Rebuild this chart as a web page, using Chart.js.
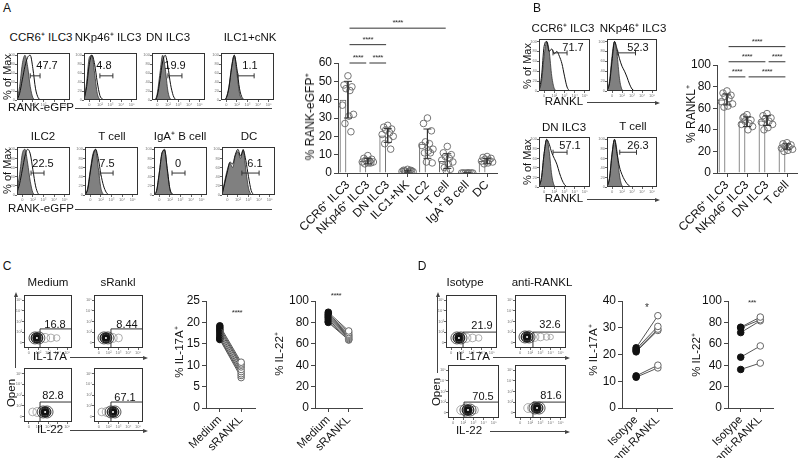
<!DOCTYPE html>
<html><head><meta charset="utf-8">
<script src="https://cdn.jsdelivr.net/npm/chart.js@4/dist/chart.umd.min.js"></script>
<style>
body{margin:0;background:#fff;}
#root{position:relative;width:800px;height:458px;overflow:hidden;background:#fff;font-family:"Liberation Sans",Arial,sans-serif;color:#111;}
.t{position:absolute;white-space:nowrap;line-height:1;}
.ln{position:absolute;background:#444;}
canvas{position:absolute;}
</style></head>
<body><div id="root"></div>
<script>
// ---------------- DATA ----------------
// Panel A bar chart
const catsA = ['CCR6⁺ ILC3','NKp46⁺ ILC3','DN ILC3','ILC1+NK','ILC2','T cell','IgA⁺ B cell','DC'];
const meanA = [40, 6.5, 20.5, 1, 16, 6.5, 0, 6.5];
const sdA = [10, 1.5, 3.8, 0.5, 8, 4, 0, 1.5];
const ptsA = [
  [53,48,47,46,45,37,32,31,27,22.5],
  [9.5,8,7.5,7,6.5,6,6,5.5,5,5.5],
  [26,25,24,23.5,22,21,20,18,16,13],
  [2,1.5,1.2,1,1,0.8,0.7,0.5,1.2,1.5],
  [30,27,23,17,16,15,13,12,11,11,6,5.5],
  [14.5,11,10,9,8,7,6,5,3,2,1],
  [0,0,0,0,0,0,0,0],
  [9,8.5,8,7.5,7,6.5,6,5.5,5]
];
const sigPairsA = [[0,5],[0,2],[0,1],[1,2]];
const sigLevelA = [79, 70, 60, 60];
const sigTextA = ['****','****','****','****'];

// Panel A histograms (grey = control, line = sample), % of max per bin
const histTitlesA = ['CCR6⁺ ILC3','NKp46⁺ ILC3','DN ILC3','ILC1+cNK','ILC2','T cell','IgA⁺ B cell','DC'];
const histPctA = ['47.7','4.8','19.9','1.1','22.5','7.5','0','6.1'];
const histIsoA = [
  [0,30,80,100,75,30,5,0],
  [0,40,95,100,60,15,0],
  [0,0,15,60,100,70,20,2,0],
  [0,0,5,30,75,100,60,15,0],
  [10,45,90,100,70,30,5,0],
  [0,15,55,90,100,60,15,0],
  [0,10,50,90,100,55,12,0],
  [0,30,55,70,60,85,95,80,100,55,15,0]
];
const histSmpA = [
  [0,15,45,75,95,100,70,25,5,0],
  [0,30,80,100,80,40,10,2,0],
  [0,0,10,45,85,100,75,35,10,0],
  [0,0,5,28,72,100,70,25,5,0],
  [5,25,55,85,100,90,55,20,3,0],
  [0,12,50,85,100,80,45,20,6,0],
  [0,10,48,92,98,58,14,2,0],
  [0,25,50,72,68,88,100,85,98,75,40,10,0]
];
const histGateA = [[5,8.7],[6,10.9],[6,11.3],[6.4,12.5],[5.3,10.2],[5.7,10.6],[6.8,11.7],[7.5,14]];
const histGateYA = [54,54,54,54,48,48,48,48];

// Panel B histograms
const histTitlesB = ['CCR6⁺ ILC3','NKp46⁺ ILC3','DN ILC3','T cell'];
const histPctB = ['71.7','52.3','57.1','26.3'];
const histIsoB = [
  [0,20,70,100,80,30,5,0],
  [0,20,70,100,75,25,3,0],
  [0,20,70,100,75,25,3,0],
  [0,20,70,100,75,25,3,0]
];
const histSmpB = [
  [0,30,90,100,80,85,75,80,70,55,30,8,0],
  [0,15,60,100,85,65,50,40,28,14,4,0],
  [0,20,70,100,90,72,60,48,30,15,5,0],
  [0,18,68,100,70,42,26,15,7,2,0]
];
const histGateB = [[5.5,11],[4.3,11.4],[5.5,11],[5.1,11.8]];
const histGateYB = [77,77,73,73];

// histogram tick labels
const histTickX = [2,6,10,14,18];
const histTickXLab = ['0','10²','10³','10⁴','10⁵'];
const histTickY = [0,20,40,60,80,100];
const histTickYLab = ['0','20','40','60','80','100'];

// Panel B bar chart
const catsB = ['CCR6⁺ ILC3','NKp46⁺ ILC3','DN ILC3','T cell'];
const meanB = [68, 47.5, 48.5, 24.5];
const sdB = [5, 4.5, 4.5, 2.5];
const ptsB = [
  [76,74,72,71,69,66,64,62,61],
  [54,51,49,48,46,45,43,40,52],
  [55,53,51,50,48,47,45,42,40],
  [28,27,26,25,24,23,22,21,20]
];
const sigPairsB = [[0,3],[0,2],[2,3],[0,1],[1,3]];
const sigLevelB = [117, 103, 103, 89, 89];
const sigTextB = ['****','****','****','****','****'];

// Contour plots (C: Medium, sRankl ; D: Isotype, anti-RANKL), log-decade units
const contourCore = [[1.35,0.95],[1.22,0.95],[2.2,0.93],[1.94,0.93],[1.27,0.95],[1.18,1.04],[1.96,0.75],[2.16,0.94]];
const contourTail = [[2.2,2.8,3.4],[1.9,2.5],[1.4,0.9],[1.3,0.8],[2.0,2.6,3.2],[1.9,2.5,3.1,3.5],[1.3,2.6],[1.3,1.6]];
const contourGate = [[1.67,1.8],[1.73,1.8],[1.67,1.85],[1.73,1.85],[1.67,1.5],[1.76,1.5],[1.57,1.5],[1.76,1.5]];
const contourPct = ['16.8','8.44','82.8','67.1','21.9','32.6','70.5','81.6'];
const contourTick = [0.5,1.5,2.5,3.5,4.5];
const contourTickLab = ['0','10²','10³','10⁴','10⁵'];

// Paired plots
const labsC = ['Medium','sRANKL'];
const c17Med = [19.2,18.8,18.4,18,17.5,17,16.5,16.2,16];
const c17sRANKL = [10.7,10.3,10,9.6,9,8.5,8,7.6,7.1];
const c22Med = [89.5,88,87,86,85,84,82.5,81,80];
const c22sRANKL = [72,70.5,69,68,67,66,65,64,63.5];
const labsD = ['Isotype','anti-RANKL'];
const d17Iso = [22.5,22,21.5,21,12,11.5];
const d17Anti = [34.5,30.5,29.5,29,16,15];
const d22Iso = [75.5,75,70.5,47.5,36];
const d22Anti = [85,82.5,81.5,58,42];

// ---------------- HELPERS ----------------
const root = document.getElementById('root');
Chart.defaults.font.family = '"Liberation Sans", Arial, sans-serif';
Chart.defaults.color = '#111';
Chart.defaults.animation = false;
Chart.defaults.plugins.legend.display = false;
Chart.defaults.plugins.tooltip.enabled = false;

Chart.register({
  id: 'frame',
  defaults: {on: false, color: '#333'},
  afterDraw(chart, args, opts) {
    if (!opts.on) return;
    const a = chart.chartArea, ctx = chart.ctx;
    ctx.save();
    ctx.strokeStyle = opts.color; ctx.lineWidth = 1;
    ctx.strokeRect(Math.round(a.left) + 0.5, Math.round(a.top) + 0.5, Math.round(a.right - a.left) - 1, Math.round(a.bottom - a.top) - 1);
    ctx.restore();
  }
});

function mk(area, pad, config) {
  const [al, at, ar, ab] = area, [pl, pt, pr, pb] = pad;
  const bl = al - pl, bt = at - pt, bw = ar - al + pl + pr, bh = ab - at + pt + pb;
  const c = document.createElement('canvas');
  c.width = bw; c.height = bh;
  c.style.left = bl + 'px'; c.style.top = bt + 'px';
  c.style.width = bw + 'px'; c.style.height = bh + 'px';
  root.appendChild(c);
  const o = config.options;
  o.responsive = false; o.maintainAspectRatio = false; o.animation = false; o.events = [];
  o.layout = {autoPadding: false, padding: {left: 0, top: pt, right: pr, bottom: 0}};
  o.scales.x.afterFit = s => { s.height = pb; s.paddingLeft = 0; s.paddingRight = 0; };
  o.scales.y.afterFit = s => { s.width = pl; s.paddingTop = 0; s.paddingBottom = 0; };
  const ch = new Chart(c, config);
  ch._bl = bl; ch._bt = bt;
  return ch;
}

function txt(s, x, y, size, opt) {
  opt = opt || {};
  const d = document.createElement('div');
  d.className = 't'; d.textContent = s;
  d.style.left = x + 'px'; d.style.top = y + 'px';
  d.style.fontSize = size + 'px';
  d.style.transform = 'translate(-50%,-50%)' + (opt.rot ? ' rotate(' + opt.rot + 'deg)' : '');
  if (opt.color) d.style.color = opt.color;
  if (opt.ls) d.style.letterSpacing = opt.ls + 'px';
  root.appendChild(d);
}
function hline(x1, x2, y, arrow) {
  const d = document.createElement('div'); d.className = 'ln';
  d.style.left = x1 + 'px'; d.style.top = y + 'px'; d.style.width = (x2 - x1) + 'px'; d.style.height = '1px';
  root.appendChild(d);
  if (arrow) {
    const a = document.createElement('div');
    a.style.cssText = 'position:absolute;width:0;height:0;border-left:5px solid #444;border-top:2px solid transparent;border-bottom:2px solid transparent;';
    a.style.left = x2 + 'px'; a.style.top = (y - 1.5) + 'px';
    root.appendChild(a);
  }
}
function vline(x, y1, y2, arrow) {
  const d = document.createElement('div'); d.className = 'ln';
  d.style.left = x + 'px'; d.style.top = y1 + 'px'; d.style.height = (y2 - y1) + 'px'; d.style.width = '1px';
  root.appendChild(d);
  if (arrow) {
    const a = document.createElement('div');
    a.style.cssText = 'position:absolute;width:0;height:0;border-bottom:5px solid #444;border-left:2px solid transparent;border-right:2px solid transparent;';
    a.style.left = (x - 1.5) + 'px'; a.style.top = (y1 - 5) + 'px';
    root.appendChild(a);
  }
}
function tinyAxis(min, max, pos, lab) {
  return {
    type: 'linear', min: min, max: max, offset: false,
    afterBuildTicks: s => { s.ticks = pos.map(v => ({value: v})); },
    ticks: {font: {size: 4}, color: '#777', padding: 0, autoSkip: false, maxRotation: 0, minRotation: 0,
            callback: (v, i) => lab[i]},
    grid: {drawOnChartArea: false, tickLength: 2, color: '#666'},
    border: {display: false}
  };
}
const axisStyle = {grid: {drawOnChartArea: false, tickLength: 4, color: '#444'}, border: {color: '#444'}};

function histChart(area, iso, smp, gate, gy) {
  return mk(area, [10, 2, 2, 8], {
    type: 'line',
    data: {datasets: [
      {data: gate.map(v => ({x: v, y: gy})), borderColor: '#333', borderWidth: 1, pointStyle: 'line', rotation: 90,
       pointRadius: 2.5, pointBorderColor: '#333', pointBorderWidth: 1, order: 1},
      {data: smp.map((v, i) => ({x: i, y: v})), borderColor: '#111', borderWidth: 1, pointRadius: 0, fill: false,
       cubicInterpolationMode: 'monotone', order: 2},
      {data: iso.map((v, i) => ({x: i, y: v})), borderColor: '#333', borderWidth: 0.8, backgroundColor: '#808080',
       fill: 'origin', pointRadius: 0, cubicInterpolationMode: 'monotone', order: 3}
    ]},
    options: {plugins: {frame: {on: true}},
      scales: {x: tinyAxis(0, 20, histTickX, histTickXLab), y: tinyAxis(0, 105, histTickY, histTickYLab)}}
  });
}

function contourChart(area, k) {
  const cx = contourCore[k][0], cy = contourCore[k][1];
  const gx = contourGate[k][0], gy = contourGate[k][1];
  const clear = 'rgba(0,0,0,0)';
  return mk(area, [9, 2, 2, 7], {
    type: 'scatter',
    data: {datasets: [
      {data: [{x: gx, y: 0}, {x: gx, y: gy}, {x: 5, y: gy}], showLine: true, borderColor: '#333', borderWidth: 1, pointRadius: 0, order: 0},
      {data: [{x: cx, y: cy}], pointRadius: 1, backgroundColor: '#fff', borderColor: '#fff', borderWidth: 0, order: 1},
      {data: [{x: cx, y: cy}], pointRadius: 3.5, backgroundColor: '#111', borderColor: '#111', borderWidth: 1, order: 2},
      {data: [{x: cx - 0.1, y: cy}, {x: cx + 0.1, y: cy}], pointRadius: 4.8, backgroundColor: clear, borderColor: '#222', borderWidth: 1.2, order: 3},
      {data: [{x: cx - 0.2, y: cy}, {x: cx + 0.2, y: cy}], pointRadius: 6, backgroundColor: clear, borderColor: '#444', borderWidth: 0.9, order: 4},
      {data: contourTail[k].map(t => ({x: t, y: cy})), pointRadius: c => 4.5 - c.dataIndex * 0.6, backgroundColor: clear,
       borderColor: '#999', borderWidth: 0.8, order: 5}
    ]},
    options: {plugins: {frame: {on: true}},
      scales: {x: tinyAxis(0, 5, contourTick, contourTickLab), y: tinyAxis(0, 5, contourTick, contourTickLab)}}
  });
}

function jit(j) {
  const pat = [0, -0.2, 0.2, -0.1, 0.1, -0.28, 0.28, 0.05, -0.15, 0.15, -0.05, 0.24];
  return pat[j % pat.length];
}

function barChart(area, pad, cats, mean, sd, pts, pairs, levels, ymax, step) {
  const n = cats.length;
  const scatter = [];
  pts.forEach((arr, i) => arr.forEach((v, j) => scatter.push({x: i + jit(j), y: v})));
  const err = [];
  mean.forEach((m, i) => {
    const hi = m + sd[i], lo = m - sd[i], w = 0.2;
    err.push({x: i - w, y: hi}, {x: i + w, y: hi}, {x: i, y: null},
             {x: i, y: hi}, {x: i, y: lo}, {x: i, y: null},
             {x: i - w, y: lo}, {x: i + w, y: lo}, {x: i, y: null});
  });
  const ds = [
    {type: 'bar', data: mean, xAxisID: 'x', yAxisID: 'y', backgroundColor: 'rgba(255,255,255,0)', borderColor: '#666',
     borderWidth: 1, barPercentage: 0.68, categoryPercentage: 1, order: 5},
    {type: 'line', data: scatter, xAxisID: 'xl', yAxisID: 'y', showLine: false, pointRadius: 3.3,
     pointBackgroundColor: 'rgba(255,255,255,0)', pointBorderColor: '#666', pointBorderWidth: 0.9, order: 3},
    {type: 'line', data: err, xAxisID: 'xl', yAxisID: 'y', spanGaps: false, borderColor: '#333', borderWidth: 1, pointRadius: 0, order: 2}
  ];
  pairs.forEach((p, k) => {
    ds.push({type: 'line', data: [{x: p[0] + 0.08, y: levels[k]}, {x: p[1] - 0.08, y: levels[k]}], xAxisID: 'xl', yAxisID: 'y',
             clip: false, borderColor: '#333', borderWidth: 1, pointRadius: 0, order: 1});
  });
  return mk(area, pad, {
    type: 'bar',
    data: {labels: cats, datasets: ds},
    options: {scales: {
      x: {type: 'category', offset: true, grid: {offset: false, drawOnChartArea: false, tickLength: 4, color: '#444'}, border: {color: '#444'},
          ticks: {font: {size: 12}, color: '#111', minRotation: 45, maxRotation: 45, autoSkip: false, padding: 1}},
      xl: {type: 'linear', display: false, offset: false, min: -0.5, max: n - 0.5, grid: {offset: false}},
      y: Object.assign({min: 0, max: ymax, ticks: {stepSize: step, font: {size: 12}, color: '#111', padding: 2}}, axisStyle)
    }}
  });
}

function sigStars(ch, pairs, levels, texts) {
  pairs.forEach((p, k) => {
    const x = ch._bl + ch.scales.xl.getPixelForValue((p[0] + p[1]) / 2);
    const y = ch._bt + ch.scales.y.getPixelForValue(levels[k]) - 5;
    txt(texts[k], x, y, 8, {color: '#333', ls: -0.5});
  });
}

function pairChart(area, pad, a, b, labs, ymax, step) {
  const ds = a.map((v, i) => ({
    data: [{x: 0, y: v}, {x: 1, y: b[i]}], borderColor: '#555', borderWidth: 1, pointRadius: 3.3,
    pointBackgroundColor: ['#111', '#fff'], pointBorderColor: ['#111', '#666'], pointBorderWidth: 1
  }));
  return mk(area, pad, {
    type: 'line', data: {datasets: ds},
    options: {scales: {
      x: {type: 'linear', offset: false, min: -0.65, max: 1.65, afterBuildTicks: s => { s.ticks = [{value: 0}, {value: 1}]; },
          ticks: {callback: (v, i) => labs[i], font: {size: 11.5}, color: '#111', minRotation: 45, maxRotation: 45, autoSkip: false, padding: 1},
          grid: {drawOnChartArea: false, tickLength: 4, color: '#444'}, border: {color: '#444'}},
      y: Object.assign({min: 0, max: ymax, ticks: {stepSize: step, font: {size: 12}, color: '#111', padding: 2}}, axisStyle)
    }}
  });
}

// ---------------- PANEL A ----------------
txt('A', 7, 8, 12);
const boxesA = [[17,53,70,100],[84,53,137,100],[152,53,205,100],[221,53,274,100],
                [17,147,70,195],[85,147,138,195],[154,147,207,195],[222,147,275,195]];
const titlePosA = [[41,38],[108,38],[168,38],[250,38],[43,137],[112,137],[180,137],[249,137]];
const pctPosA = [[47,65],[104,65],[175,65],[250,65],[43,163],[107,163],[178,163],[255,163]];
boxesA.forEach((b, k) => {
  histChart(b, histIsoA[k], histSmpA[k], histGateA[k], histGateYA[k]);
  txt(histTitlesA[k], titlePosA[k][0], titlePosA[k][1], 11.5);
  txt(histPctA[k], pctPosA[k][0], pctPosA[k][1], 11);
});
txt('% of Max', 7, 77, 11, {rot: -90});
txt('% of Max', 7, 171, 11, {rot: -90});
txt('RANK-eGFP', 41, 108, 11.5); hline(75, 272, 108, false);
txt('RANK-eGFP', 41, 209, 11.5); hline(75, 272, 209, false);

const chA = barChart([338,63,497,173], [53,48,5,72], catsA, meanA, sdA, ptsA, sigPairsA, sigLevelA, 60, 10);
sigStars(chA, sigPairsA, sigLevelA, sigTextA);
txt('% RANK-eGFP⁺', 310, 117, 12, {rot: -90});

// ---------------- PANEL B ----------------
txt('B', 537, 8, 12);
const boxesB = [[539,39,590,91],[607,39,657,91],[539,137,590,187],[607,137,657,187]];
const titlePosB = [[563,29],[633,29],[564,128],[633,127]];
const pctPosB = [[573,47],[638,47],[570,145],[638,145]];
boxesB.forEach((b, k) => {
  histChart(b, histIsoB[k], histSmpB[k], histGateB[k], histGateYB[k]);
  txt(histTitlesB[k], titlePosB[k][0], titlePosB[k][1], 11.5);
  txt(histPctB[k], pctPosB[k][0], pctPosB[k][1], 11);
});
txt('% of Max', 527, 66, 11, {rot: -90});
txt('% of Max', 527, 162, 11, {rot: -90});
txt('RANKL', 564, 102, 11.5); hline(587, 655, 102, true);
txt('RANKL', 564, 199, 11.5); hline(587, 655, 199, true);

const chB = barChart([717,65,797,173], [52,37,3,60], catsB, meanB, sdB, ptsB, sigPairsB, sigLevelB, 100, 20);
sigStars(chB, sigPairsB, sigLevelB, sigTextB);
txt('% RANKL⁺', 691, 114, 12, {rot: -90});

// ---------------- PANEL C ----------------
txt('C', 7, 266, 12);
const boxesCD = [[24,295,72,348],[94,295,143,348],[24,368,72,422],[94,368,143,422],
                 [446,295,497,348],[515,295,566,348],[448,365,499,418],[515,365,566,418]];
const pctPosCD = [[55,324],[127,324],[53,395],[125,397],[482,325],[550,324],[483,396],[551,395]];
boxesCD.forEach((b, k) => {
  contourChart(b, k);
  txt(contourPct[k], pctPosCD[k][0], pctPosCD[k][1], 11);
});
txt('Medium', 48, 283, 11.5);
txt('sRankl', 118, 283, 11.5);
txt('IL-17A', 50, 357, 11.5); hline(70, 143, 357, true);
txt('IL-22', 50, 430, 11.5); hline(70, 143, 430, true);
vline(15, 297, 368, true);
txt('Open', 12, 393, 11.5, {rot: -90});

pairChart([206,301,255,408], [28,12,8,52], c17Med, c17sRANKL, labsC, 25, 5);
txt('% IL-17A⁺', 180, 352, 11.5, {rot: -90});
txt('****', 237, 313, 8, {color: '#333', ls: -0.5});
pairChart([315,301,362,408], [30,12,8,52], c22Med, c22sRANKL, labsC, 100, 20);
txt('% IL-22⁺', 280, 354, 11.5, {rot: -90});
txt('****', 336, 296, 8, {color: '#333', ls: -0.5});

// ---------------- PANEL D ----------------
txt('D', 422, 266, 12);
txt('Isotype', 465, 283, 11.5);
txt('anti-RANKL', 542, 283, 11.5);
txt('IL-17A', 473, 357, 11.5); hline(493, 565, 357, true);
txt('IL-22', 469, 431, 11.5); hline(490, 565, 431, true);
vline(437, 297, 373, true);
txt('Open', 437, 392, 11.5, {rot: -90});

pairChart([622,301,672,408], [28,12,8,52], d17Iso, d17Anti, labsD, 40, 10);
txt('% IL-17A⁺', 594, 350, 11.5, {rot: -90});
txt('*', 647, 308, 10, {color: '#333'});
pairChart([728,301,773,408], [30,12,10,52], d22Iso, d22Anti, labsD, 100, 20);
txt('% IL-22⁺', 697, 355, 11.5, {rot: -90});
txt('***', 752, 303, 8, {color: '#333', ls: -0.5});
</script>
</body></html>
